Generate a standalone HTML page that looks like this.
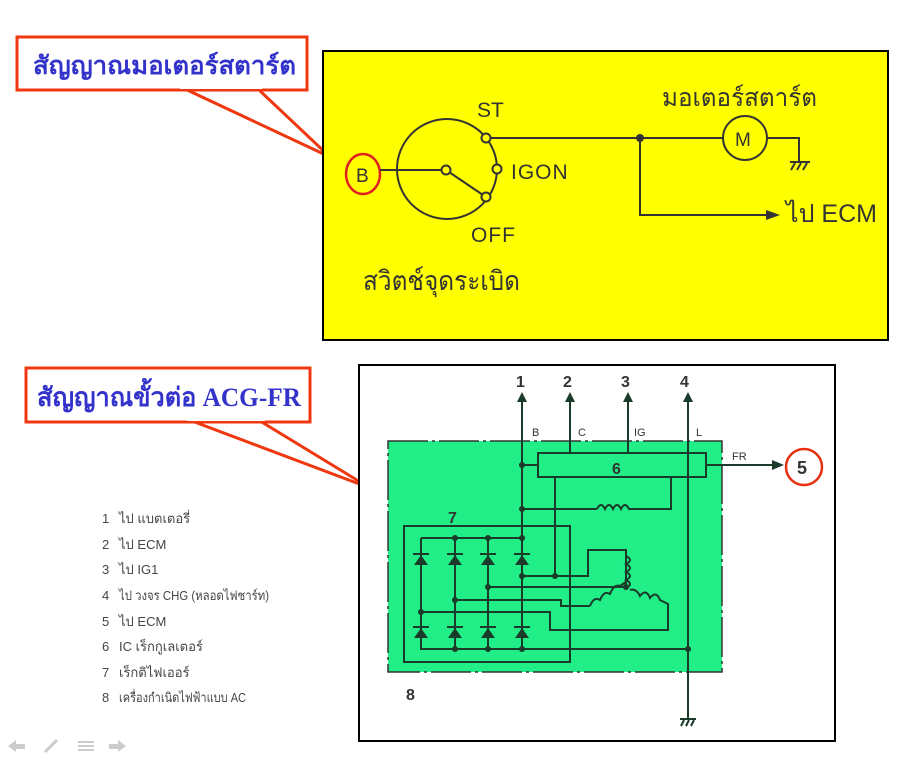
<!DOCTYPE html>
<html><head><meta charset="utf-8"><style>
body{margin:0;background:#fff;width:922px;height:767px;overflow:hidden;font-family:"Liberation Sans","Noto Sans CJK SC",sans-serif}
</style></head><body>
<svg width="922" height="767" viewBox="0 0 922 767" xmlns="http://www.w3.org/2000/svg" font-family="Liberation Sans, Noto Sans CJK SC, sans-serif">
<!-- callout 1 -->
<polygon points="185,89 258,89 330,157" fill="#fff" stroke="#f03810" stroke-width="3"/>
<rect x="17" y="37" width="290" height="53" fill="#fff" stroke="#f03810" stroke-width="3"/>
<rect x="180" y="85" width="82" height="4" fill="#fff"/>
<text x="33" y="74" font-family="Liberation Serif, Noto Serif CJK SC, serif" font-weight="bold" font-size="25" fill="#3333cc" textLength="263" lengthAdjust="spacingAndGlyphs">สัญญาณมอเตอร์สตาร์ต</text>
<!-- yellow box -->
<rect x="323" y="51" width="565" height="289" fill="#ffff00" stroke="#000" stroke-width="2"/>
<g stroke="#333" stroke-width="2" fill="none">
<ellipse cx="363" cy="174" rx="17" ry="20" stroke="#e02020" stroke-width="2.5"/>
<circle cx="447" cy="169" r="50"/>
<line x1="380" y1="170" x2="442" y2="170"/>
<line x1="449" y1="172" x2="483" y2="195"/>
<line x1="490" y1="138" x2="723" y2="138"/>
<circle cx="745" cy="138" r="22"/>
<polyline points="767,138 799,138 799,161"/>
<line x1="790" y1="162" x2="810" y2="162"/>
<line x1="791" y1="170" x2="795" y2="163"/><line x1="797" y1="170" x2="801" y2="163"/><line x1="803" y1="170" x2="807" y2="163"/>
<polyline points="640,138 640,215 768,215"/>
</g>
<polygon points="766,210 780,215 766,220" fill="#333"/>
<circle cx="640" cy="138" r="4" fill="#333"/>
<g fill="#ffff00" stroke="#333" stroke-width="2">
<circle cx="446" cy="170" r="4.5"/><circle cx="486" cy="138" r="4.5"/><circle cx="497" cy="169" r="4.5"/><circle cx="486" cy="197" r="4.5"/>
</g>
<g fill="#333">
<text x="356" y="182" font-size="19">B</text>
<text x="477" y="117" font-size="21">ST</text>
<text x="511" y="179" font-size="21" letter-spacing="1">IGON</text>
<text x="471" y="242" font-size="21" letter-spacing="1">OFF</text>
<text x="735" y="146" font-size="19">M</text>
<text x="662" y="106" font-size="25" textLength="155" lengthAdjust="spacingAndGlyphs">มอเตอร์สตาร์ต</text>
<text x="786" y="222" font-size="25" textLength="91" lengthAdjust="spacingAndGlyphs">ไป ECM</text>
<text x="363" y="290" font-size="27" textLength="157" lengthAdjust="spacingAndGlyphs">สวิตช์จุดระเบิด</text>
</g>
<!-- callout 2 -->
<polygon points="192,421 260,421 370,488" fill="#fff" stroke="#f03810" stroke-width="3"/>
<rect x="26" y="368" width="284" height="54" fill="#fff" stroke="#f03810" stroke-width="3"/>
<rect x="187" y="417" width="78" height="4" fill="#fff"/>
<text x="37" y="406" font-family="Liberation Serif, Noto Serif CJK SC, serif" font-weight="bold" font-size="26" fill="#3333cc" textLength="264" lengthAdjust="spacingAndGlyphs">สัญญาณขั้วต่อ ACG-FR</text>
<!-- legend -->
<g fill="#444" font-size="13">
<text x="102" y="523">1</text><text x="119" y="523">ไป แบตเตอรี่</text>
<text x="102" y="549">2</text><text x="119" y="549">ไป ECM</text>
<text x="102" y="574">3</text><text x="119" y="574">ไป IG1</text>
<text x="102" y="600">4</text><text x="119" y="600" textLength="150" lengthAdjust="spacingAndGlyphs">ไป วงจร CHG (หลอดไฟชาร์ท)</text>
<text x="102" y="626">5</text><text x="119" y="626">ไป ECM</text>
<text x="102" y="651">6</text><text x="119" y="651">IC เร็กกูเลเตอร์</text>
<text x="102" y="677">7</text><text x="119" y="677">เร็กติไฟเออร์</text>
<text x="102" y="702">8</text><text x="119" y="702" textLength="127" lengthAdjust="spacingAndGlyphs">เครื่องกำเนิดไฟฟ้าแบบ AC</text>
</g>
<g fill="#ccc"><polygon points="8,746 16,740 16,752"/><rect x="16" y="744" width="9" height="5"/><rect x="78" y="741" width="16" height="2"/><rect x="78" y="745" width="16" height="2"/><rect x="78" y="749" width="16" height="2"/><polygon points="126,746 118,740 118,752"/><rect x="109" y="744" width="9" height="5"/><line x1="45" y1="752" x2="57" y2="740" stroke="#ccc" stroke-width="3"/></g>
<!-- box 2 -->
<rect x="359" y="365" width="476" height="376" fill="#fff" stroke="#000" stroke-width="2"/>
<rect x="388" y="441" width="334" height="231" fill="#22ee88" stroke="#333" stroke-width="1.5" stroke-dasharray="40 4 3 4"/>
<g stroke="#1a3a2a" stroke-width="2" fill="none">
<line x1="522" y1="400" x2="522" y2="651"/>
<line x1="570" y1="400" x2="570" y2="453"/>
<line x1="628" y1="400" x2="628" y2="453"/>
<line x1="688" y1="400" x2="688" y2="718"/>
<rect x="538" y="453" width="168" height="24"/>
<line x1="522" y1="465" x2="538" y2="465"/>
<line x1="706" y1="465" x2="775" y2="465"/>
<polyline points="555,477 555,576 522,576"/>
<polyline points="671,477 671,509 633,509"/>
<polyline points="522,509 597,509"/>
<path d="M597,509 q4,-8 8,0 q4,-8 8,0 q4,-8 8,0 q4,-8 8,0 q4,0 4,0"/>
<rect x="404" y="526" width="166" height="136"/>
<polyline points="421,538 522,538"/>
<polyline points="421,538 421,649 688,649"/>
<line x1="455" y1="538" x2="455" y2="649"/>
<line x1="488" y1="538" x2="488" y2="649"/>
<polyline points="555,576 588,576 588,550 626,550 626,590"/>
<path d="M626,556 q8,4 0,8 q8,4 0,8 q8,4 0,8 q8,4 0,8"/>
<polyline points="488,587 626,587 626,590"/>
<polyline points="455,600 561,600 561,606 590,606"/>
<path d="M590,606 q4,-10 10,-6 q4,-10 10,-6 q4,-10 10,-8 l6,-4"/>
<path d="M630,590 q6,-2 10,6 q6,-8 10,2 q6,-8 10,2 l8,4 l0,26 l-118,0 l0,-18 l-129,0"/>
<line x1="680" y1="719" x2="696" y2="719"/>
<line x1="681" y1="726" x2="684" y2="720"/><line x1="686" y1="726" x2="689" y2="720"/><line x1="691" y1="726" x2="694" y2="720"/>
</g>
<g fill="#1a3a2a">
<polygon points="517,402 522,392 527,402"/><polygon points="565,402 570,392 575,402"/><polygon points="623,402 628,392 633,402"/><polygon points="683,402 688,392 693,402"/>
<polygon points="772,460 784,465 772,470"/>
<polygon points="414,565 428,565 421,555"/><rect x="413" y="553" width="16" height="2"/>
<polygon points="448,565 462,565 455,555"/><rect x="447" y="553" width="16" height="2"/>
<polygon points="481,565 495,565 488,555"/><rect x="480" y="553" width="16" height="2"/>
<polygon points="515,565 529,565 522,555"/><rect x="514" y="553" width="16" height="2"/>
<polygon points="414,638 428,638 421,628"/><rect x="413" y="626" width="16" height="2"/>
<polygon points="448,638 462,638 455,628"/><rect x="447" y="626" width="16" height="2"/>
<polygon points="481,638 495,638 488,628"/><rect x="480" y="626" width="16" height="2"/>
<polygon points="515,638 529,638 522,628"/><rect x="514" y="626" width="16" height="2"/>
<circle cx="522" cy="465" r="3"/><circle cx="522" cy="509" r="3"/><circle cx="522" cy="538" r="3"/><circle cx="455" cy="538" r="3"/><circle cx="488" cy="538" r="3"/>
<circle cx="522" cy="576" r="3"/><circle cx="555" cy="576" r="3"/><circle cx="488" cy="587" r="3"/><circle cx="455" cy="600" r="3"/><circle cx="421" cy="612" r="3"/>
<circle cx="455" cy="649" r="3"/><circle cx="488" cy="649" r="3"/><circle cx="522" cy="649" r="3"/><circle cx="688" cy="649" r="3"/><circle cx="626" cy="587" r="3"/>
</g>
<circle cx="804" cy="467" r="18" fill="none" stroke="#e83010" stroke-width="2.5"/>
<g fill="#333" font-weight="bold">
<text x="516" y="387" font-size="16">1</text><text x="563" y="387" font-size="16">2</text><text x="621" y="387" font-size="16">3</text><text x="680" y="387" font-size="16">4</text>
<text x="797" y="474" font-size="18">5</text>
<text x="612" y="474" font-size="16">6</text>
<text x="448" y="523" font-size="16">7</text>
<text x="406" y="700" font-size="16">8</text>
</g>
<g fill="#333" font-size="11"><text x="532" y="436">B</text><text x="578" y="436">C</text><text x="634" y="436">IG</text><text x="696" y="436">L</text><text x="732" y="460">FR</text></g>
</svg>
</body></html>
